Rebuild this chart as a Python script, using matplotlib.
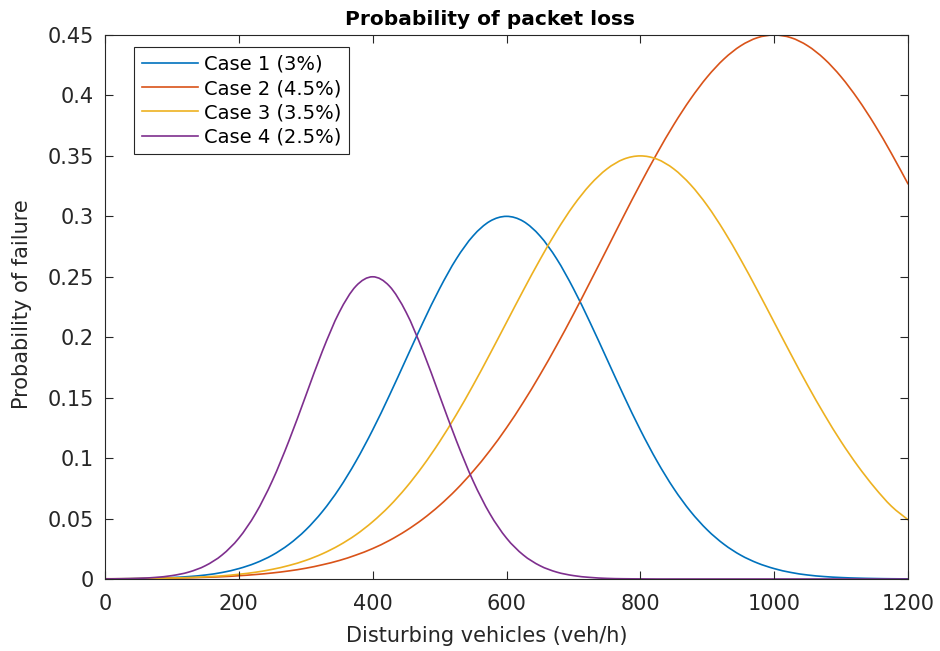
import matplotlib
matplotlib.use("Agg")
import matplotlib.pyplot as plt
from matplotlib.path import Path
from matplotlib.patches import PathPatch
from matplotlib.lines import Line2D

plt.rcParams['font.family'] = ['DejaVu Sans']

vehicles = list(range(0, 1225, 25))

case1 = [0.0001, 0.0002, 0.0004, 0.0007, 0.0012, 0.0020, 0.0033, 0.0054, 0.0086, 0.0132,
         0.0197, 0.0287, 0.0406, 0.0559, 0.0748, 0.0974, 0.1233, 0.1519, 0.1820, 0.2120,
         0.2402, 0.2648, 0.2838, 0.2959, 0.3000, 0.2959, 0.2838, 0.2648, 0.2402, 0.2120,
         0.1820, 0.1519, 0.1233, 0.0974, 0.0748, 0.0559, 0.0406, 0.0287, 0.0197, 0.0132,
         0.0086, 0.0054, 0.0033, 0.0020, 0.0012, 0.0007, 0.0004, 0.0002, 0.0001]

case2 = [0.0002, 0.0002, 0.0003, 0.0005, 0.0007, 0.0010, 0.0014, 0.0019, 0.0027, 0.0037,
         0.0050, 0.0067, 0.0089, 0.0118, 0.0153, 0.0198, 0.0252, 0.0319, 0.0400, 0.0496,
         0.0609, 0.0740, 0.0891, 0.1061, 0.1251, 0.1461, 0.1689, 0.1933, 0.2190, 0.2458,
         0.2729, 0.3002, 0.3268, 0.3522, 0.3759, 0.3971, 0.4154, 0.4302, 0.4411, 0.4478,
         0.4500, 0.4478, 0.4411, 0.4302, 0.4154, 0.3971, 0.3759, 0.3522, 0.3268]

case3 = [0.0001, 0.0002, 0.0003, 0.0005, 0.0008, 0.0012, 0.0018, 0.0026, 0.0039, 0.0056,
         0.0080, 0.0112, 0.0154, 0.0209, 0.0279, 0.0366, 0.0474, 0.0603, 0.0757, 0.0935,
         0.1136, 0.1360, 0.1602, 0.1859, 0.2123, 0.2387, 0.2642, 0.2879, 0.3089, 0.3262,
         0.3392, 0.3473, 0.3500, 0.3473, 0.3392, 0.3262, 0.3089, 0.2879, 0.2642, 0.2387,
         0.2123, 0.1859, 0.1602, 0.1360, 0.1136, 0.0935, 0.0757, 0.0603, 0.0490]

case4 = [0.0001, 0.0002, 0.0005, 0.0013, 0.0028, 0.0057, 0.0110, 0.0199, 0.0338, 0.0541,
         0.0812, 0.1145, 0.1516, 0.1887, 0.2206, 0.2423, 0.2500, 0.2423, 0.2206, 0.1887,
         0.1516, 0.1145, 0.0812, 0.0541, 0.0338, 0.0199, 0.0110, 0.0057, 0.0028, 0.0013,
         0.0005, 0.0002, 0.0001, 0.0, 0.0, 0.0, 0.0, 0.0, 0.0, 0.0,
         0.0, 0.0, 0.0, 0.0, 0.0, 0.0, 0.0, 0.0, 0.0]

labels = ['Case 1 (3%)', 'Case 2 (4.5%)', 'Case 3 (3.5%)', 'Case 4 (2.5%)']
colors = ['#0072BD', '#D95319', '#EDB120', '#7E2F8E']

xticks = [0, 200, 400, 600, 800, 1000, 1200]
yticks = [0, 0.05, 0.1, 0.15, 0.2, 0.25, 0.3, 0.35, 0.4, 0.45]
yticklabels = ['0', '0.05', '0.1', '0.15', '0.2', '0.25', '0.3', '0.35', '0.4', '0.45']


def smooth_path(xs, ys):
    """Smooth (Catmull-Rom style) Bezier path through the read points."""
    n = len(xs)
    verts = [(xs[0], ys[0])]
    codes = [Path.MOVETO]
    for i in range(n - 1):
        i0 = i - 1 if i > 0 else i
        i3 = i + 2 if i + 2 < n else i + 1
        c1 = (xs[i] + (xs[i + 1] - xs[i0]) / 6.0, ys[i] + (ys[i + 1] - ys[i0]) / 6.0)
        c2 = (xs[i + 1] - (xs[i3] - xs[i]) / 6.0, ys[i + 1] - (ys[i3] - ys[i]) / 6.0)
        verts += [c1, c2, (xs[i + 1], ys[i + 1])]
        codes += [Path.CURVE4] * 3
    return Path(verts, codes)


fig = plt.figure(figsize=(9.4, 6.51), dpi=100)
ax = fig.add_axes([0.1117, 0.1106, 0.8543, 0.8356])

handles = []
for ys, lab, c in zip([case1, case2, case3, case4], labels, colors):
    ax.add_patch(PathPatch(smooth_path(vehicles, ys), fill=False, edgecolor=c,
                           lw=1.2, capstyle='round', joinstyle='round'))
    handles.append(Line2D([], [], color=c, lw=1.2, label=lab))

ax.set_xlim(0, 1200)
ax.set_ylim(0, 0.45)
ax.set_xticks(xticks)
ax.set_xticklabels([str(t) for t in xticks])
ax.set_yticks(yticks)
ax.set_yticklabels(yticklabels)
ax.tick_params(direction='in', top=True, right=True, labelsize=15, length=6, width=0.8,
               colors='#262626')
ax.tick_params(axis='x', pad=11)
ax.tick_params(axis='y', pad=8)
for s in ax.spines.values():
    s.set_color('#262626')
    s.set_linewidth(0.8)

ax.set_xlabel('Disturbing vehicles (veh/h)', fontsize=15, color='#262626')
ax.xaxis.set_label_coords(0.476, -0.086)
ax.set_ylabel('Probability of failure', fontsize=15, color='#262626')
ax.yaxis.set_label_coords(-0.091, 0.505)
ax.set_title('Probability of packet loss', fontsize=14.5, fontweight='bold', pad=7, x=0.48)

leg = ax.legend(handles=handles, loc='upper left', bbox_to_anchor=(0.036, 0.978),
                borderaxespad=0, fontsize=14, handlelength=2.9,
                frameon=True, fancybox=False, edgecolor='#262626', borderpad=0.4,
                labelspacing=0.27, handletextpad=0.3, framealpha=1)
leg.get_frame().set_linewidth(0.8)

fig.savefig('out.png', dpi=100)
